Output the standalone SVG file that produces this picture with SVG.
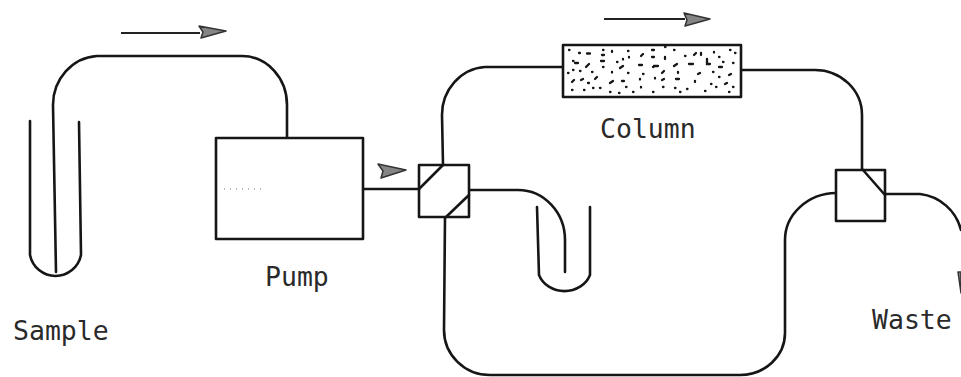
<svg xmlns="http://www.w3.org/2000/svg" width="961" height="377" viewBox="0 0 961 377">
<style>
.l{fill:none;stroke:#161616;stroke-width:2.6;stroke-linecap:round;stroke-linejoin:round}
.n{fill:#fff;stroke:#161616;stroke-width:2.6;stroke-linejoin:round}
.h{fill:#858585;stroke:#333;stroke-width:1.500;stroke-linejoin:round}
.a{fill:none;stroke:#222;stroke-width:2}
.d{fill:none;stroke:#161616;stroke-width:2.3;stroke-linecap:round}
.s{fill:none;stroke:#777;stroke-width:1;stroke-dasharray:1 5}
text{font-family:"DejaVu Sans Mono","Liberation Mono",monospace;font-size:26.500px;fill:#2a2a2a}
</style>
<rect width="961" height="377" fill="#fff"/>
<g id="connectors">
<path class="l" d="M56 272L53 105A47 49 0 0 1 97 56H242A45 49 0 0 1 287 105V138"/>
<path class="l" d="M363 189H419"/>
<path class="l" d="M443 165L442 115A46 48 0 0 1 485 67H563"/>
<path class="l" d="M469 190H518A47 50 0 0 1 565 240V272"/>
<path class="l" d="M445 217L444 330A46 45 0 0 0 490 375H740A45 42 0 0 0 785 333V240A52 47 0 0 1 836 193"/>
<path class="l" d="M741 70H815A47 45 0 0 1 862 115V170"/>
<path class="l" d="M885 194H920A48 48 0 0 1 961 230"/>
</g>
<g id="flow-arrows">
<path class="a" d="M121 33H200"/>
<path class="h" d="M199 26L226 31L201 38L203 32Z"/>
<path class="h" d="M378 164L406 170L381 178L383 171Z"/>
<path class="a" d="M604 19H685"/>
<path class="h" d="M684 13L710 19L685 26L687 20Z"/>
<path class="h" d="M958 272H961V293Z"/>
</g>
<g id="sample">
<path class="l" d="M30 121V255A26 26 0 0 0 81 255L79 122"/>
<text x="13" y="340">Sample</text>
</g>
<g id="pump">
<rect class="n" x="216" y="138" width="147" height="101"/>
<path class="s" d="M224 189H262"/>
<text x="265" y="286">Pump</text>
</g>
<g id="valve-1">
<rect class="n" x="419" y="165" width="50" height="52"/>
<path class="l" d="M419 189L443 165M446 217L469 195"/>
</g>
<g id="loop">
<path class="l" d="M537 207L539 275A27 24 0 0 0 590 275V207"/>
</g>
<g id="column">
<rect class="n" x="563" y="45" width="178" height="52"/>
<path class="d" d="M569 50h.5M579 53h1M587 53.500h3M603 50h.5M602 55h2M612 51v1M628 51h.5M641 56l2-2M652 50h2M652 57h2M573 61h.5M575 63h3M586 67l3-3M601 61h3M603 67h.5M617 62h.5M623 59v.5M629 57v.5M620 68l3-2M639 65h3M653 67h.5M573 70h.5M568 73h.5M580 71h.5M592 72h.5M612 72v.5M628 73h.5M643 74h.5M572 82l2-2M581 80l2-1M588 83h1M595 79l2-2M610 83l3-2M622 81h2M640 79v.5M572 90h.5M584 90h.5M593 88h.5M600 88h.5M610 92h.5M619 93h.5M626 87h.5M633 92h.5M641 87v.5M653 92h.5M665 47h.5M674 50h.5M685 56h.5M694 55l2-2M701 53v2M714 52v.5M719 57h.5M730 50h.5M735 53h.5M665 57v2M654 66h4M674 66l3-2M689 64h4M707 59v5h3M723 62h.5M719 67h3M733 63h.5M662 73l2-2M678 72v1M698 74l2-1M713 72h.5M729 75l2-1M655 78v.5M662 80l2-1M676 79h3M695 81v1M719 77h.5M711 84h.5M716 87h.5M725 84l2-1M733 87h.5M663 87h.5M653 92h.5M675 88h.5M680 92h.5M687 89h.5M705 91h.5M729 92h.5"/>
<text x="600" y="138">Column</text>
</g>
<g id="valve-2">
<rect class="n" x="836" y="170" width="49" height="51"/>
<path class="l" d="M863 170L885 195"/>
</g>
<g id="waste">
<text x="872" y="329">Waste</text>
</g>
</svg>
